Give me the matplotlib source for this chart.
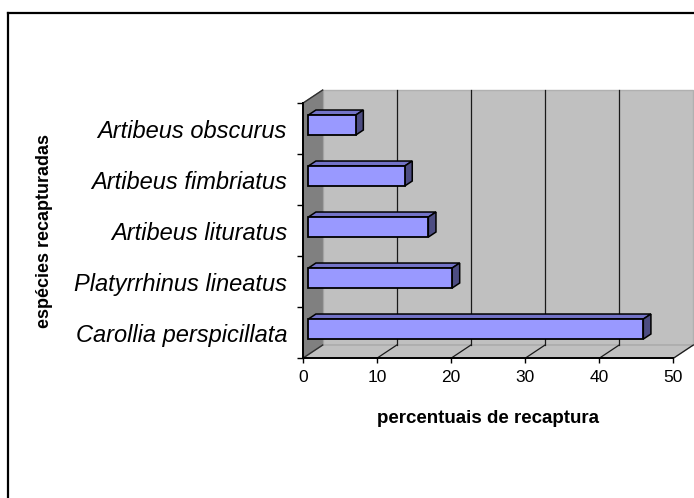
import matplotlib
matplotlib.use("Agg")
import matplotlib.pyplot as plt
from matplotlib.patches import Polygon, Rectangle
from matplotlib.lines import Line2D

# ---- data ----
categories = ["Carollia perspicillata", "Platyrrhinus lineatus",
              "Artibeus lituratus", "Artibeus fimbriatus", "Artibeus obscurus"]
values = [45.2, 19.4, 16.2, 13.0, 6.4]
x_ticks = [0, 10, 20, 30, 40, 50]
x_label = "percentuais de recaptura"
y_label = "espécies recapturadas"

# ---- style ----
plt.rcParams['font.family'] = ['Liberation Sans', 'DejaVu Sans']
W, H = 694, 498
fig = plt.figure(figsize=(W / 100, H / 100), dpi=100)
fig.patch.set_facecolor("white")

ax_l, ax_r, ax_t, ax_b = 302.7, 673.3, 103.3, 358.3
ax = fig.add_axes([ax_l / W, (H - ax_b) / H, (ax_r - ax_l) / W, (ax_b - ax_t) / H])
ax.set_xlim(0, 50)
ax.set_ylim(-0.5, len(categories) - 0.5)
ax.patch.set_visible(False)
for s in ax.spines.values():
    s.set_visible(False)

# depth offsets (pixels) converted to data units
DEPTH_DX_PX, DEPTH_DY_PX = 20.0, 13.3
ux = (ax_r - ax_l) / 50.0
uy = (ax_b - ax_t) / len(categories)
ddx = DEPTH_DX_PX / ux
ddy = DEPTH_DY_PX / uy

xmin, xmax = 0, 50
ymin, ymax = -0.5, len(categories) - 0.5

wall_c = "#c0c0c0"
# back wall
ax.add_patch(Polygon([(xmin + ddx, ymin + ddy), (xmax + ddx, ymin + ddy),
                      (xmax + ddx, ymax + ddy), (xmin + ddx, ymax + ddy)],
                     closed=True, facecolor=wall_c, edgecolor="#b0b0b0",
                     lw=1.0, clip_on=False, zorder=0))
# floor
ax.add_patch(Polygon([(xmin, ymin), (xmax, ymin), (xmax + ddx, ymin + ddy),
                      (xmin + ddx, ymin + ddy)],
                     closed=True, facecolor=wall_c, edgecolor="#a8a8a8",
                     lw=1.0, clip_on=False, zorder=0.5))
# left wall
ax.add_patch(Polygon([(xmin, ymin), (xmin + ddx, ymin + ddy),
                      (xmin + ddx, ymax + ddy), (xmin, ymax)],
                     closed=True, facecolor="#808080", edgecolor="#808080",
                     lw=0.8, clip_on=False, zorder=0.6))
ax.add_line(Line2D([xmin, xmin + ddx], [ymax, ymax + ddy], color="#303030",
                   lw=1.0, clip_on=False, zorder=0.7))
ax.add_line(Line2D([xmin, xmin + ddx], [ymin, ymin + ddy], color="#303030",
                   lw=1.0, clip_on=False, zorder=0.7))

# gridlines on back wall and floor
for t in x_ticks[1:]:
    if t < xmax:
        ax.add_line(Line2D([t + ddx, t + ddx], [ymin + ddy, ymax + ddy],
                           color="#1a1a1a", lw=0.9, clip_on=False, zorder=0.8))
    ax.add_line(Line2D([t, t + ddx], [ymin, ymin + ddy],
                       color="#1a1a1a", lw=0.9, clip_on=False, zorder=0.8))

# front axis lines
ax.add_line(Line2D([xmin, xmax], [ymin, ymin], color="black", lw=1.4,
                   clip_on=False, zorder=1))
ax.add_line(Line2D([xmin, xmin], [ymin, ymax], color="black", lw=1.4,
                   clip_on=False, zorder=1))

# 3D bars
f0, fb = 0.28, 0.38
bh = 20.0 / uy
bdx, bdy = fb * ddx, fb * ddy
for i, v in enumerate(values):
    x0 = f0 * ddx
    x1 = v + f0 * ddx
    y0 = i - bh / 2 + f0 * ddy
    y1 = i + bh / 2 + f0 * ddy
    ax.add_patch(Polygon([(x0, y1), (x1, y1), (x1 + bdx, y1 + bdy), (x0 + bdx, y1 + bdy)],
                         closed=True, facecolor="#7373c8", edgecolor="black",
                         lw=1.1, clip_on=False, zorder=2))
    ax.add_patch(Polygon([(x1, y0), (x1 + bdx, y0 + bdy), (x1 + bdx, y1 + bdy), (x1, y1)],
                         closed=True, facecolor="#4d4d82", edgecolor="black",
                         lw=1.1, clip_on=False, zorder=2))
    ax.add_patch(Rectangle((x0, y0), v, bh, facecolor="#9999ff",
                           edgecolor="black", lw=1.3, clip_on=False, zorder=3))

# ticks
ax.set_xticks(x_ticks)
ax.set_xticklabels([str(t) for t in x_ticks], fontsize=12.5)
ax.tick_params(axis="x", direction="out", length=3.5, width=1.0, pad=5, colors="black")
ax.set_yticks([k - 0.5 for k in range(len(categories) + 1)])
ax.set_yticklabels([])
ax.tick_params(axis="y", which="major", direction="out", length=4.3, width=1.0)
ax.set_yticks(range(len(categories)), minor=True)
ax.set_yticklabels(categories, minor=True, fontsize=17, style="italic")
ax.tick_params(axis="y", which="minor", length=0, pad=11.3)

# axis titles
fig.text(487.5 / W, (H - 423) / H, x_label, ha="center", va="baseline",
         fontsize=13.5, fontweight="bold")
fig.text(44.5 / W, (H - 231) / H, y_label, ha="center", va="center",
         rotation=90, fontsize=13, fontweight="bold")

# outer frame (extends beyond the image on right and bottom)
fig.add_artist(Line2D([8.3 / W, 8.3 / W], [-0.05, (H - 13) / H],
                      transform=fig.transFigure, color="black", lw=1.6))
fig.add_artist(Line2D([8.3 / W, 1.05], [(H - 13) / H, (H - 13) / H],
                      transform=fig.transFigure, color="black", lw=1.6))

fig.savefig("out.png", dpi=100)
